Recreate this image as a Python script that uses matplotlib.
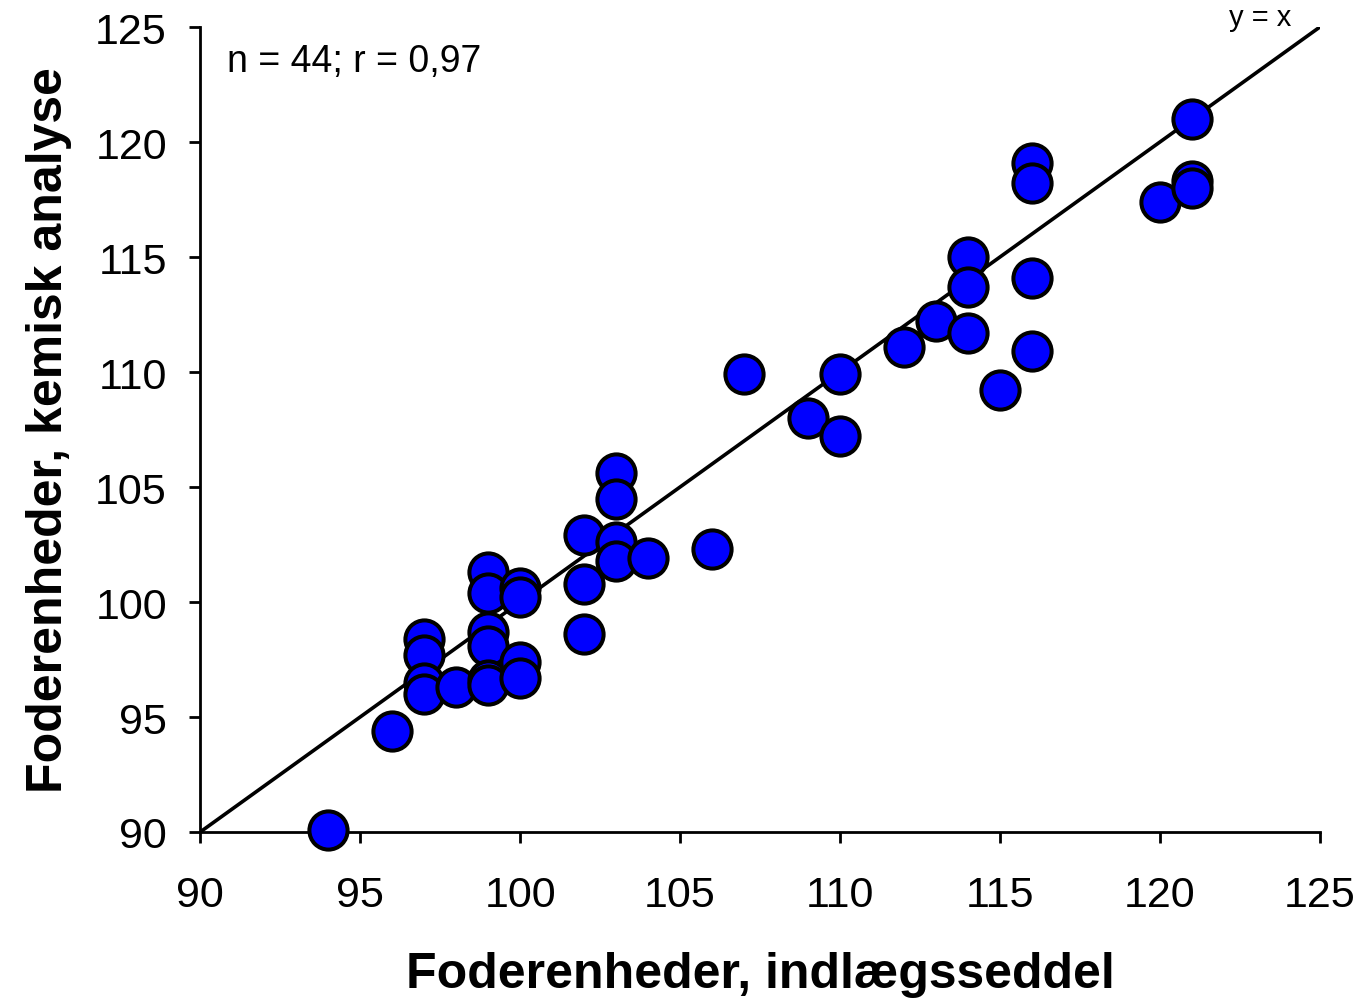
import numpy as np
import matplotlib
matplotlib.use("Agg")
import matplotlib.pyplot as plt

plt.rcParams["font.family"] = ["Liberation Sans", "DejaVu Sans"]

# foderenheder: indlaegsseddel (x) vs kemisk analyse (y)
fe_seddel = [94, 96,
             97, 97, 97, 97,
             98,
             99, 99, 99, 99, 99, 99,
             100, 100, 100, 100,
             102, 102, 102,
             103, 103, 103, 103,
             104, 106, 107, 109,
             110, 110,
             112, 113,
             114, 114, 114,
             115,
             116, 116, 116, 116,
             120,
             121, 121, 121]
fe_analyse = [90.1, 94.4,
              98.4, 97.7, 96.5, 96.0,
              96.3,
              101.3, 100.4, 98.7, 98.1, 96.6, 96.4,
              100.6, 100.2, 97.4, 96.7,
              102.9, 100.8, 98.6,
              105.6, 104.5, 102.6, 101.8,
              101.9, 102.3, 109.9, 108.0,
              109.9, 107.2,
              111.1, 112.2,
              115.0, 113.7, 111.7,
              109.2,
              119.1, 118.2, 114.1, 110.9,
              117.4,
              121.0, 118.3, 118.0]

ticks = [90, 95, 100, 105, 110, 115, 120, 125]

fig = plt.figure(figsize=(13.62, 10.03), dpi=100)
ax = fig.add_axes([0.147, 0.1695, 0.822, 0.8025])

ax.plot([90, 125], [90, 125], color="black", lw=2.6, zorder=2)
ax.plot(fe_seddel, fe_analyse, "o", ms=27.5, mfc="#0000ff", mec="black",
        mew=2.9, zorder=3, clip_on=False)

ax.set_xlim(90, 125)
ax.set_ylim(90, 125)
ax.set_xticks(ticks)
ax.set_yticks(ticks)
ax.tick_params(axis="both", labelsize=31, direction="out", length=8,
               width=2)
ax.tick_params(axis="x", pad=23)
ax.tick_params(axis="y", pad=16)
for side in ["top", "right"]:
    ax.spines[side].set_visible(False)
for side in ["left", "bottom"]:
    ax.spines[side].set_linewidth(2)

ax.set_xlabel("Foderenheder, indlægsseddel", fontsize=36, fontweight="bold",
              labelpad=26)
ax.set_ylabel("Foderenheder, kemisk analyse", fontsize=36, fontweight="bold",
              labelpad=17)

ax.text(0.024, 0.98, "n = 44; r = 0,97", transform=ax.transAxes,
        fontsize=27, va="top", ha="left")
ax.text(0.975, 0.995, "y = x", transform=ax.transAxes, fontsize=21,
        va="bottom", ha="right")

fig.savefig("out.png", dpi=100)
